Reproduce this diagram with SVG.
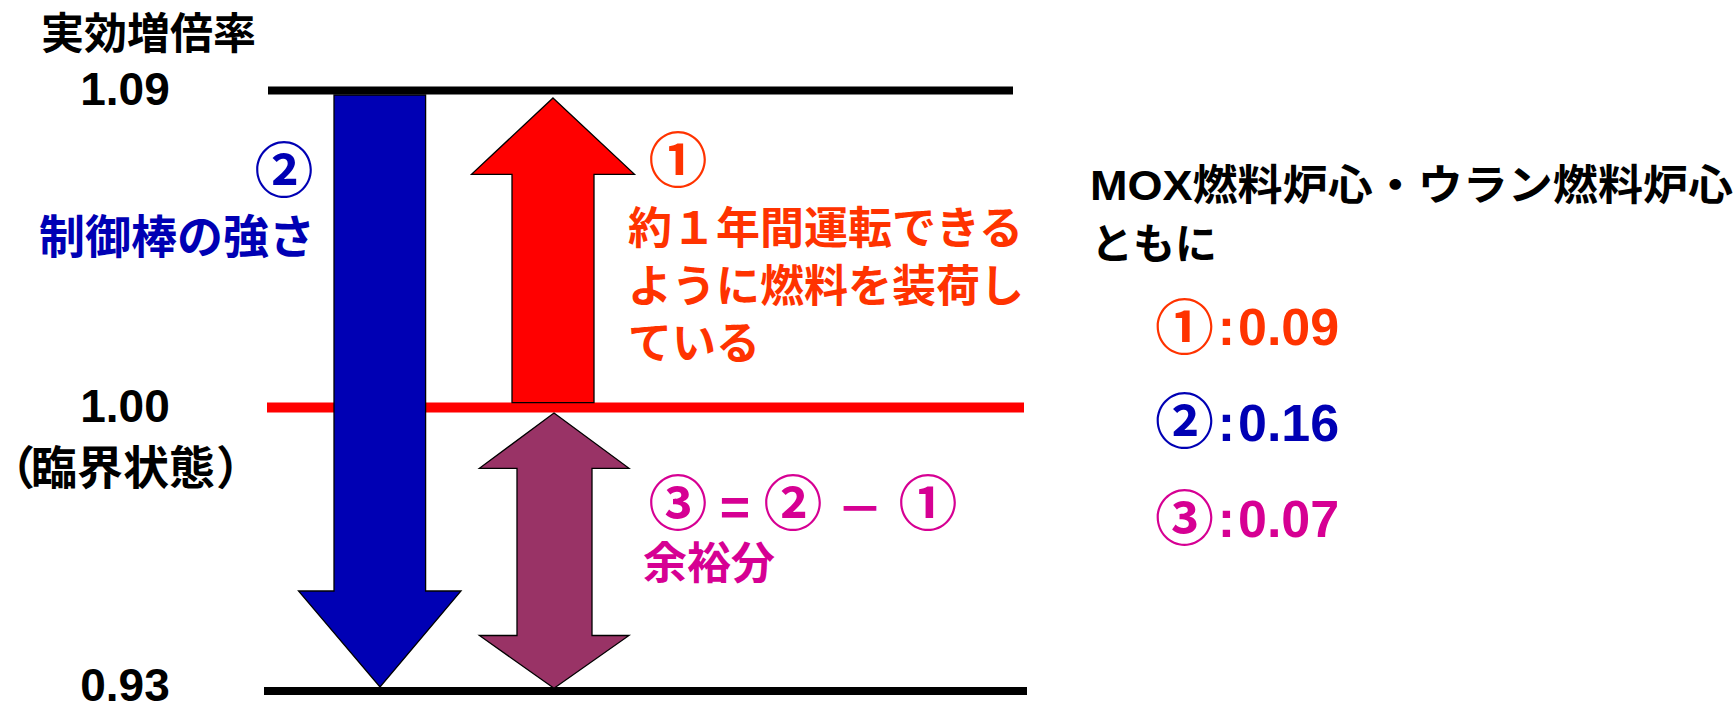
<svg xmlns="http://www.w3.org/2000/svg" width="1736" height="707" viewBox="0 0 1736 707">
<style>
.jp{font-family:"Liberation Sans","Noto Sans CJK JP",sans-serif;font-weight:bold}
.num{font-family:"Liberation Sans","Noto Sans CJK JP",sans-serif;font-weight:bold}
.palt{font-feature-settings:"palt"}
.blk{fill:#000}
.red{fill:#FF3300}
.blu{fill:#0000B4}
.mag{fill:#D60093}
.arrow{stroke:#000;stroke-width:1.3;stroke-linejoin:miter}
</style>
<rect width="1736" height="707" fill="#fff"/>
<g id="levels">
<line x1="268" y1="90.5" x2="1013" y2="90.5" stroke="#000" stroke-width="8"/>
<line x1="267" y1="407.5" x2="1024" y2="407.5" stroke="#FF0000" stroke-width="10"/>
<line x1="264" y1="691" x2="1027" y2="691" stroke="#000" stroke-width="8"/>
</g>
<g id="axis-labels">
<text class="jp blk" x="41" y="49" font-size="43">実効増倍率</text>
<text class="num blk" x="125" y="105" font-size="46" text-anchor="middle">1.09</text>
<text class="num blk" x="125" y="422" font-size="46" text-anchor="middle">1.00</text>
<text class="jp blk palt" y="484" font-size="46"><tspan x="10">（</tspan><tspan x="31">臨界状態</tspan><tspan x="218">）</tspan></text>
<text class="num blk" x="125" y="701" font-size="46" text-anchor="middle">0.93</text>
</g>
<g id="arrow-control">
<path class="arrow" fill="#0000B4" d="M334,95 H425.6 V591 H461 L380,687 L298.5,591 H334 Z"/>
<text class="jp blu" x="284" y="191.5" font-size="59" text-anchor="middle">②</text>
<text class="jp blu" x="39" y="253" font-size="46">制御棒の強さ</text>
</g>
<g id="arrow-fuel">
<path class="arrow" fill="#FF0000" d="M553,98 L634.5,174.3 H594 V402.7 H512 V174.3 H471.5 Z"/>
<text class="jp red" x="678" y="181.5" font-size="59" text-anchor="middle">①</text>
<text class="jp red" x="628" y="244" font-size="44">約１年間運転できる</text>
<text class="jp red" x="628" y="302" font-size="44">ように燃料を装荷し</text>
<text class="jp red" x="628" y="359" font-size="44">ている</text>
</g>
<g id="arrow-margin">
<path class="arrow" fill="#993366" d="M554,413 L629,468.3 H592 V635.5 H629 L554,688.3 L479.4,635.5 H517 V468.3 H479.4 Z"/>
<text class="jp mag" y="524.5" font-size="59" text-anchor="middle"><tspan x="678">③</tspan><tspan x="735" font-size="52">=</tspan><tspan x="793">②</tspan><tspan x="860" font-size="46">－</tspan><tspan x="928">①</tspan></text>
<text class="jp mag" x="643" y="579" font-size="44">余裕分</text>
</g>
<g id="summary">
<text class="jp blk" x="1090" y="200" font-size="42" textLength="643" lengthAdjust="spacingAndGlyphs">MOX燃料炉心・ウラン燃料炉心</text>
<text class="jp blk" x="1091" y="259" font-size="42">ともに</text>
<text class="jp red" y="348.5" font-size="59" text-anchor="middle" x="1184.5">①</text>
<text class="num red" x="1226.5" y="345" font-size="52" text-anchor="middle">:</text>
<text class="num red" x="1238" y="345" font-size="52">0.09</text>
<text class="jp blu" y="442.5" font-size="59" text-anchor="middle" x="1184.5">②</text>
<text class="num blu" x="1226.5" y="441" font-size="52" text-anchor="middle">:</text>
<text class="num blu" x="1238" y="441" font-size="52">0.16</text>
<text class="jp mag" y="539.5" font-size="59" text-anchor="middle" x="1184.5">③</text>
<text class="num mag" x="1226.5" y="537" font-size="52" text-anchor="middle">:</text>
<text class="num mag" x="1238" y="537" font-size="52">0.07</text>
</g>
</svg>
